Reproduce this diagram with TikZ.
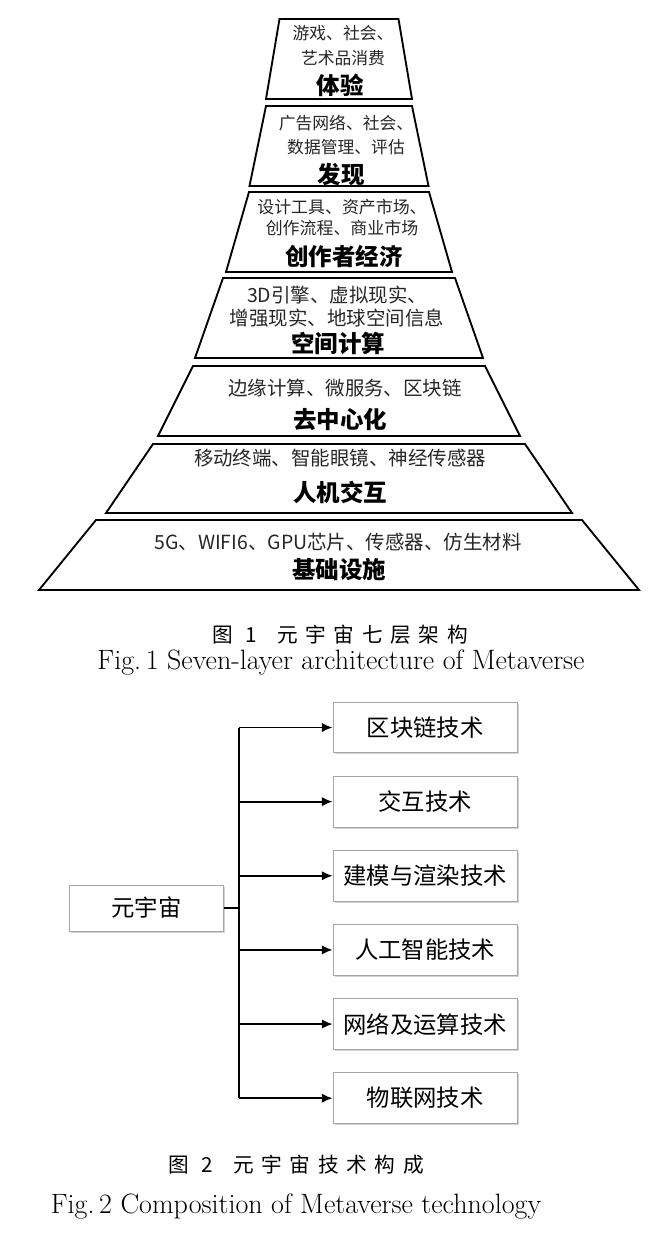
\documentclass[tikz,border=0pt]{standalone}
\usepackage{fontspec}
\newfontfamily\cjk{Noto Sans CJK SC}
\newfontfamily\cjkcap[LetterSpace=37]{Noto Sans CJK SC}
\usetikzlibrary{arrows.meta, positioning, calc, shadows}

\begin{document}
\begin{tikzpicture}[x=0.75pt, y=-0.75pt, >={Latex[length=8pt,width=7pt]},
  layer/.style={draw, line width=1.4pt, line join=miter},
  smalltop/.style={font=\cjk\fontsize{12.6}{18.5}\selectfont, align=center, text=black!85},
  smallbot/.style={font=\cjk\fontsize{14.6}{17.3}\selectfont, align=center, text=black!85},
  title/.style={font=\cjk\bfseries\fontsize{17.6}{20}\selectfont},
  tech/.style={draw=gray!70, line width=0.6pt, fill=white, minimum width=138pt, minimum height=38pt,
    font=\cjk\fontsize{17.5}{20}\selectfont,
    drop shadow={shadow xshift=1.2pt, shadow yshift=-1.2pt, opacity=0.35, fill=gray}},
  caption/.style={font=\cjkcap\fontsize{15.5}{17}\selectfont},
  engcap/.style={font=\fontsize{21}{24}\selectfont}]
  \useasboundingbox (0,0) rectangle (666,1234);

  % seven-layer pyramid: ytop / ybot / half width top / half width bottom
  \foreach \yt/\yb/\ht/\hb in {19/99/59.5/73, 106/186/73/89.5, 192/272/90/113, 278/358/116/144,
      366/436/146/181, 444/513/186/233, 520/590/243/300}
    \draw[layer] (339-\ht,\yt) -- (339+\ht,\yt) -- (339+\hb,\yb) -- (339-\hb,\yb) -- cycle;

  \node[smalltop] (L1s) at (343,45.5) {游戏、社会、\\艺术品消费};
  \node[title] (L1) at (340,85) {体验};
  \node[smalltop] (L2s) at (346,135) {广告网络、社会、\\数据管理、评估};
  \node[title] (L2) at (341,175) {发现};
  \node[smalltop, font=\cjk\fontsize{12.7}{15.8}\selectfont] (L3s) at (342,217.5) {设计工具、资产市场、\\创作流程、商业市场};
  \node[title] (L3) at (344,257) {创作者经济};
  \node[smallbot] (L4s) at (337,306.5) {3D引擎、虚拟现实、\\增强现实、地球空间信息};
  \node[title] (L4) at (338,343) {空间计算};
  \node[smallbot] (L5s) at (345,388) {边缘计算、微服务、区块链};
  \node[title] (L5) at (340,420) {去中心化};
  \node[smallbot] (L6s) at (340,458) {移动终端、智能眼镜、神经传感器};
  \node[title] (L6) at (340,492) {人机交互};
  \node[smallbot] (L7s) at (338,542) {5G、WIFI6、GPU芯片、传感器、仿生材料};
  \node[title] (L7) at (339,570) {基础设施};

  \node[caption] (cap1) at (340,635) {图 1\hspace{1em}元宇宙七层架构};
  \node[engcap] (cap2) at (341,663) {Fig.\,1 Seven-layer architecture of Metaverse};

  % technology composition
  \node[tech, minimum width=116pt, minimum height=34.5pt] (meta) at (146.5,908) {元宇宙};
  \node[tech] (t1) at (425,727.5) {区块链技术};
  \node[tech, below=17pt of t1] (t2) {交互技术};
  \node[tech, below=17pt of t2] (t3) {建模与渲染技术};
  \node[tech, below=17pt of t3] (t4) {人工智能技术};
  \node[tech, below=17pt of t4] (t5) {网络及运算技术};
  \node[tech, below=17pt of t5] (t6) {物联网技术};

  \coordinate (hub) at ($(meta.east)+(15,0)$);
  \draw[line width=1.4pt] (meta.east) -- (hub);
  \draw[line width=1.4pt] (hub |- t1.west) -- (hub |- t6.west);
  \foreach \i in {1,...,6}
    \draw[->, line width=1.4pt] (hub |- t\i.west) -- (t\i.west);

  \node[caption] (cap3) at (296,1165) {图 2\hspace{1em}元宇宙技术构成};
  \node[engcap] (cap4) at (296,1207) {Fig.\,2 Composition of Metaverse technology};
\end{tikzpicture}
\end{document}
